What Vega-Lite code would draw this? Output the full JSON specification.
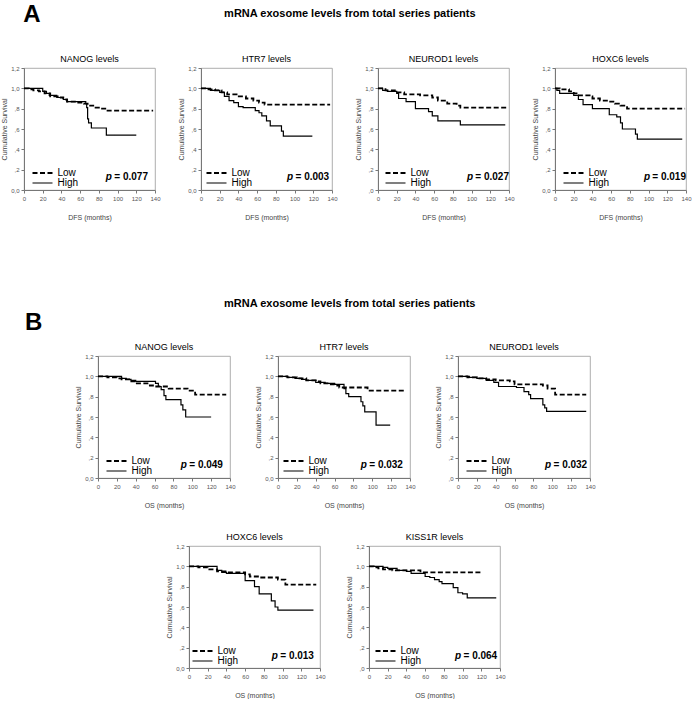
{
"$schema": "https://vega.github.io/schema/vega-lite/v6.json",
"padding": {"left": 0, "top": 2, "right": 0, "bottom": 0},
"spacing": 76,
"resolve": {"scale": {"strokeDash": "independent", "strokeWidth": "independent"}, "legend": {"strokeDash": "independent"}},
"config": {
  "font": "Liberation Sans",
  "view": {"stroke": "#999", "strokeWidth": 0.8},
  "axis": {"grid": false, "labelFontSize": 6, "labelColor": "#555", "labelFont": "Liberation Sans", "labelOverlap": false, "labelFlush": false, "tickColor": "#777", "domainColor": "#777", "tickSize": 3, "titleFontSize": 7, "titleFontWeight": "normal", "titleColor": "#444", "titleFont": "Liberation Sans", "labelPadding": 2},
  "axisY": {"titlePadding": 3},
  "axisX": {"titlePadding": 12},
  "title": {"fontSize": 9, "fontWeight": "normal", "color": "black", "offset": 1, "font": "Liberation Sans"},
  "legend": {"symbolType": "M-4,0H4", "symbolStrokeColor": "black", "symbolFillColor": "transparent", "symbolStrokeWidth": 1.6, "symbolSize": 25, "labelFontSize": 10, "labelColor": "black", "labelFont": "Liberation Sans", "padding": 0, "rowPadding": -3, "labelOffset": 10},
  "text": {"font": "Liberation Sans"}
},
"datasets": {
"pv": [
{"panel":"A1","p":"= 0.077"},{"panel":"A2","p":"= 0.003"},{"panel":"A3","p":"= 0.027"},{"panel":"A4","p":"= 0.019"},
{"panel":"B1","p":"= 0.049"},{"panel":"B2","p":"= 0.032"},{"panel":"B3","p":"= 0.032"},{"panel":"C1","p":"= 0.013"},{"panel":"C2","p":"= 0.064"}
],
"km": [
{"panel":"A1","group":"Low","t":0,"s":1},{"panel":"A1","group":"Low","t":5,"s":0.99},{"panel":"A1","group":"Low","t":10,"s":0.98},{"panel":"A1","group":"Low","t":16,"s":0.97},{"panel":"A1","group":"Low","t":22,"s":0.95},{"panel":"A1","group":"Low","t":28,"s":0.92},{"panel":"A1","group":"Low","t":36,"s":0.91},{"panel":"A1","group":"Low","t":42,"s":0.89},{"panel":"A1","group":"Low","t":46,"s":0.87},{"panel":"A1","group":"Low","t":58,"s":0.86},{"panel":"A1","group":"Low","t":64,"s":0.85},{"panel":"A1","group":"Low","t":68,"s":0.83},{"panel":"A1","group":"Low","t":74,"s":0.81},{"panel":"A1","group":"Low","t":80,"s":0.80},{"panel":"A1","group":"Low","t":88,"s":0.78},{"panel":"A1","group":"Low","t":138,"s":0.78},
{"panel":"A1","group":"High","t":0,"s":1},{"panel":"A1","group":"High","t":20,"s":0.97},{"panel":"A1","group":"High","t":24,"s":0.95},{"panel":"A1","group":"High","t":27,"s":0.93},{"panel":"A1","group":"High","t":35,"s":0.91},{"panel":"A1","group":"High","t":42,"s":0.89},{"panel":"A1","group":"High","t":46,"s":0.87},{"panel":"A1","group":"High","t":66,"s":0.85},{"panel":"A1","group":"High","t":67,"s":0.81},{"panel":"A1","group":"High","t":68,"s":0.70},{"panel":"A1","group":"High","t":69,"s":0.66},{"panel":"A1","group":"High","t":72,"s":0.61},{"panel":"A1","group":"High","t":88,"s":0.54},{"panel":"A1","group":"High","t":120,"s":0.54},
{"panel":"A2","group":"Low","t":0,"s":1},{"panel":"A2","group":"Low","t":8,"s":0.99},{"panel":"A2","group":"Low","t":15,"s":0.98},{"panel":"A2","group":"Low","t":22,"s":0.96},{"panel":"A2","group":"Low","t":28,"s":0.94},{"panel":"A2","group":"Low","t":38,"s":0.92},{"panel":"A2","group":"Low","t":48,"s":0.90},{"panel":"A2","group":"Low","t":56,"s":0.88},{"panel":"A2","group":"Low","t":62,"s":0.86},{"panel":"A2","group":"Low","t":68,"s":0.84},{"panel":"A2","group":"Low","t":138,"s":0.84},
{"panel":"A2","group":"High","t":0,"s":1},{"panel":"A2","group":"High","t":10,"s":0.98},{"panel":"A2","group":"High","t":20,"s":0.96},{"panel":"A2","group":"High","t":25,"s":0.92},{"panel":"A2","group":"High","t":30,"s":0.88},{"panel":"A2","group":"High","t":35,"s":0.86},{"panel":"A2","group":"High","t":40,"s":0.82},{"panel":"A2","group":"High","t":45,"s":0.81},{"panel":"A2","group":"High","t":58,"s":0.78},{"panel":"A2","group":"High","t":62,"s":0.76},{"panel":"A2","group":"High","t":65,"s":0.73},{"panel":"A2","group":"High","t":70,"s":0.68},{"panel":"A2","group":"High","t":74,"s":0.63},{"panel":"A2","group":"High","t":86,"s":0.58},{"panel":"A2","group":"High","t":88,"s":0.53},{"panel":"A2","group":"High","t":119,"s":0.53},
{"panel":"A3","group":"Low","t":0,"s":1},{"panel":"A3","group":"Low","t":8,"s":0.98},{"panel":"A3","group":"Low","t":18,"s":0.96},{"panel":"A3","group":"Low","t":28,"s":0.94},{"panel":"A3","group":"Low","t":45,"s":0.93},{"panel":"A3","group":"Low","t":58,"s":0.91},{"panel":"A3","group":"Low","t":64,"s":0.88},{"panel":"A3","group":"Low","t":74,"s":0.85},{"panel":"A3","group":"Low","t":84,"s":0.83},{"panel":"A3","group":"Low","t":88,"s":0.81},{"panel":"A3","group":"Low","t":138,"s":0.81},
{"panel":"A3","group":"High","t":0,"s":1},{"panel":"A3","group":"High","t":5,"s":0.98},{"panel":"A3","group":"High","t":10,"s":0.97},{"panel":"A3","group":"High","t":20,"s":0.95},{"panel":"A3","group":"High","t":22,"s":0.90},{"panel":"A3","group":"High","t":30,"s":0.87},{"panel":"A3","group":"High","t":40,"s":0.80},{"panel":"A3","group":"High","t":54,"s":0.77},{"panel":"A3","group":"High","t":58,"s":0.73},{"panel":"A3","group":"High","t":64,"s":0.68},{"panel":"A3","group":"High","t":88,"s":0.64},{"panel":"A3","group":"High","t":136,"s":0.64},
{"panel":"A4","group":"Low","t":0,"s":1},{"panel":"A4","group":"Low","t":5,"s":0.99},{"panel":"A4","group":"Low","t":15,"s":0.97},{"panel":"A4","group":"Low","t":20,"s":0.95},{"panel":"A4","group":"Low","t":24,"s":0.93},{"panel":"A4","group":"Low","t":37,"s":0.92},{"panel":"A4","group":"Low","t":40,"s":0.90},{"panel":"A4","group":"Low","t":48,"s":0.88},{"panel":"A4","group":"Low","t":58,"s":0.87},{"panel":"A4","group":"Low","t":64,"s":0.85},{"panel":"A4","group":"Low","t":70,"s":0.83},{"panel":"A4","group":"Low","t":77,"s":0.80},{"panel":"A4","group":"Low","t":139,"s":0.80},
{"panel":"A4","group":"High","t":0,"s":1},{"panel":"A4","group":"High","t":2,"s":0.98},{"panel":"A4","group":"High","t":5,"s":0.95},{"panel":"A4","group":"High","t":20,"s":0.93},{"panel":"A4","group":"High","t":25,"s":0.89},{"panel":"A4","group":"High","t":30,"s":0.84},{"panel":"A4","group":"High","t":40,"s":0.80},{"panel":"A4","group":"High","t":58,"s":0.74},{"panel":"A4","group":"High","t":66,"s":0.72},{"panel":"A4","group":"High","t":70,"s":0.66},{"panel":"A4","group":"High","t":72,"s":0.60},{"panel":"A4","group":"High","t":86,"s":0.55},{"panel":"A4","group":"High","t":88,"s":0.50},{"panel":"A4","group":"High","t":136,"s":0.50},
{"panel":"B1","group":"Low","t":0,"s":1},{"panel":"B1","group":"Low","t":10,"s":0.99},{"panel":"B1","group":"Low","t":20,"s":0.98},{"panel":"B1","group":"Low","t":25,"s":0.97},{"panel":"B1","group":"Low","t":33,"s":0.95},{"panel":"B1","group":"Low","t":40,"s":0.93},{"panel":"B1","group":"Low","t":55,"s":0.91},{"panel":"B1","group":"Low","t":60,"s":0.90},{"panel":"B1","group":"Low","t":75,"s":0.88},{"panel":"B1","group":"Low","t":95,"s":0.86},{"panel":"B1","group":"Low","t":103,"s":0.82},{"panel":"B1","group":"Low","t":136,"s":0.82},
{"panel":"B1","group":"High","t":0,"s":1},{"panel":"B1","group":"High","t":25,"s":0.98},{"panel":"B1","group":"High","t":30,"s":0.97},{"panel":"B1","group":"High","t":35,"s":0.96},{"panel":"B1","group":"High","t":40,"s":0.95},{"panel":"B1","group":"High","t":61,"s":0.93},{"panel":"B1","group":"High","t":64,"s":0.90},{"panel":"B1","group":"High","t":67,"s":0.87},{"panel":"B1","group":"High","t":70,"s":0.81},{"panel":"B1","group":"High","t":72,"s":0.77},{"panel":"B1","group":"High","t":88,"s":0.72},{"panel":"B1","group":"High","t":90,"s":0.67},{"panel":"B1","group":"High","t":93,"s":0.60},{"panel":"B1","group":"High","t":120,"s":0.60},
{"panel":"B2","group":"Low","t":0,"s":1},{"panel":"B2","group":"Low","t":10,"s":0.99},{"panel":"B2","group":"Low","t":20,"s":0.98},{"panel":"B2","group":"Low","t":30,"s":0.96},{"panel":"B2","group":"Low","t":40,"s":0.95},{"panel":"B2","group":"Low","t":45,"s":0.93},{"panel":"B2","group":"Low","t":55,"s":0.92},{"panel":"B2","group":"Low","t":60,"s":0.91},{"panel":"B2","group":"Low","t":65,"s":0.89},{"panel":"B2","group":"Low","t":95,"s":0.86},{"panel":"B2","group":"Low","t":136,"s":0.86},
{"panel":"B2","group":"High","t":0,"s":1},{"panel":"B2","group":"High","t":10,"s":0.99},{"panel":"B2","group":"High","t":18,"s":0.98},{"panel":"B2","group":"High","t":25,"s":0.97},{"panel":"B2","group":"High","t":30,"s":0.96},{"panel":"B2","group":"High","t":40,"s":0.94},{"panel":"B2","group":"High","t":50,"s":0.93},{"panel":"B2","group":"High","t":60,"s":0.92},{"panel":"B2","group":"High","t":70,"s":0.88},{"panel":"B2","group":"High","t":72,"s":0.83},{"panel":"B2","group":"High","t":75,"s":0.80},{"panel":"B2","group":"High","t":88,"s":0.75},{"panel":"B2","group":"High","t":90,"s":0.71},{"panel":"B2","group":"High","t":92,"s":0.65},{"panel":"B2","group":"High","t":104,"s":0.52},{"panel":"B2","group":"High","t":119,"s":0.52},
{"panel":"B3","group":"Low","t":0,"s":1},{"panel":"B3","group":"Low","t":10,"s":0.99},{"panel":"B3","group":"Low","t":20,"s":0.98},{"panel":"B3","group":"Low","t":30,"s":0.97},{"panel":"B3","group":"Low","t":40,"s":0.96},{"panel":"B3","group":"Low","t":55,"s":0.95},{"panel":"B3","group":"Low","t":60,"s":0.92},{"panel":"B3","group":"Low","t":90,"s":0.91},{"panel":"B3","group":"Low","t":95,"s":0.88},{"panel":"B3","group":"Low","t":103,"s":0.82},{"panel":"B3","group":"Low","t":136,"s":0.82},
{"panel":"B3","group":"High","t":0,"s":1},{"panel":"B3","group":"High","t":12,"s":0.99},{"panel":"B3","group":"High","t":20,"s":0.98},{"panel":"B3","group":"High","t":30,"s":0.96},{"panel":"B3","group":"High","t":38,"s":0.94},{"panel":"B3","group":"High","t":43,"s":0.90},{"panel":"B3","group":"High","t":62,"s":0.89},{"panel":"B3","group":"High","t":70,"s":0.85},{"panel":"B3","group":"High","t":75,"s":0.82},{"panel":"B3","group":"High","t":77,"s":0.78},{"panel":"B3","group":"High","t":90,"s":0.72},{"panel":"B3","group":"High","t":92,"s":0.69},{"panel":"B3","group":"High","t":94,"s":0.655},{"panel":"B3","group":"High","t":136,"s":0.655},
{"panel":"C1","group":"Low","t":0,"s":1},{"panel":"C1","group":"Low","t":10,"s":0.99},{"panel":"C1","group":"Low","t":20,"s":0.97},{"panel":"C1","group":"Low","t":30,"s":0.95},{"panel":"C1","group":"Low","t":40,"s":0.94},{"panel":"C1","group":"Low","t":60,"s":0.92},{"panel":"C1","group":"Low","t":65,"s":0.90},{"panel":"C1","group":"Low","t":75,"s":0.89},{"panel":"C1","group":"Low","t":95,"s":0.87},{"panel":"C1","group":"Low","t":103,"s":0.82},{"panel":"C1","group":"Low","t":136,"s":0.82},
{"panel":"C1","group":"High","t":0,"s":1},{"panel":"C1","group":"High","t":30,"s":0.96},{"panel":"C1","group":"High","t":35,"s":0.94},{"panel":"C1","group":"High","t":40,"s":0.93},{"panel":"C1","group":"High","t":60,"s":0.86},{"panel":"C1","group":"High","t":70,"s":0.80},{"panel":"C1","group":"High","t":75,"s":0.73},{"panel":"C1","group":"High","t":88,"s":0.66},{"panel":"C1","group":"High","t":92,"s":0.60},{"panel":"C1","group":"High","t":95,"s":0.57},{"panel":"C1","group":"High","t":133,"s":0.57},
{"panel":"C2","group":"Low","t":0,"s":1},{"panel":"C2","group":"Low","t":5,"s":0.99},{"panel":"C2","group":"Low","t":10,"s":0.98},{"panel":"C2","group":"Low","t":15,"s":0.97},{"panel":"C2","group":"Low","t":25,"s":0.96},{"panel":"C2","group":"Low","t":55,"s":0.94},{"panel":"C2","group":"Low","t":120,"s":0.94},
{"panel":"C2","group":"High","t":0,"s":1},{"panel":"C2","group":"High","t":15,"s":0.99},{"panel":"C2","group":"High","t":20,"s":0.98},{"panel":"C2","group":"High","t":30,"s":0.96},{"panel":"C2","group":"High","t":40,"s":0.95},{"panel":"C2","group":"High","t":45,"s":0.93},{"panel":"C2","group":"High","t":60,"s":0.90},{"panel":"C2","group":"High","t":65,"s":0.89},{"panel":"C2","group":"High","t":70,"s":0.87},{"panel":"C2","group":"High","t":75,"s":0.85},{"panel":"C2","group":"High","t":78,"s":0.83},{"panel":"C2","group":"High","t":90,"s":0.79},{"panel":"C2","group":"High","t":95,"s":0.74},{"panel":"C2","group":"High","t":100,"s":0.73},{"panel":"C2","group":"High","t":105,"s":0.69},{"panel":"C2","group":"High","t":136,"s":0.69}
]
},
"vconcat": [
{
 "title": {"text": "A", "anchor": "start", "fontSize": 24, "fontWeight": "bold", "offset": 0, "dy": 19, "dx": 23},
 "resolve": {"scale": {"strokeDash": "independent", "strokeWidth": "independent"}, "legend": {"strokeDash": "independent"}},
 "vconcat": [
 {
  "title": {"text": "mRNA exosome levels from total series patients", "anchor": "middle", "fontSize": 11, "fontWeight": "bold", "offset": 36, "dx": 4},
  "bounds": "flush",
  "spacing": 46,
  "resolve": {"scale": {"strokeDash": "independent", "strokeWidth": "independent"}, "legend": {"strokeDash": "independent"}},
  "hconcat": [
   {"width": 131, "height": 122, "title": "NANOG levels", "layer": [
    {"data": {"name": "km"}, "transform": [{"filter": "datum.panel == 'A1'"}], "mark": {"type": "line", "interpolate": "step-after", "color": "black"},
     "encoding": {
      "x": {"field": "t", "type": "quantitative", "scale": {"domain": [0, 140], "nice": false}, "axis": {"title": "DFS (months)", "values": [0,20,40,60,80,100,120,140], "tickCount": 8, "labelOverlap": false}},
      "y": {"field": "s", "type": "quantitative", "scale": {"domain": [0, 1.2], "nice": false}, "axis": {"title": "Cumulative Survival", "values": [0,0.2,0.4,0.6,0.8,1,1.2], "tickCount": 7, "labelOverlap": false, "labelExpr": "datum.value == 0 ? '0,0' : datum.value >= 1 ? replace(format(datum.value, '.1f'), '.', ',') : ',' + substring(format(datum.value, '.1f'), 2)"}},
      "strokeDash": {"field": "group", "type": "nominal", "scale": {"domain": ["Low", "High"], "range": [[5, 2.5], [1, 0]]}, "legend": {"title": null, "symbolType": "M-4,0H4", "orient": "none", "legendX": 13.5, "legendY": 100}},
      "strokeWidth": {"field": "group", "type": "nominal", "scale": {"domain": ["Low", "High"], "range": [1.8, 1.2]}, "legend": null}}},
    {"data": {"name": "pv"}, "transform": [{"filter": "datum.panel == 'A1'"}], "mark": {"type": "text", "align": "right", "baseline": "middle", "fontSize": 10, "fontWeight": "bold", "color": "black"},
     "encoding": {"text": {"field": "p"}, "x": {"datum": 132.5}, "y": {"datum": 0.125}}},
    {"data": {"name": "pv"}, "transform": [{"filter": "datum.panel == 'A1'"}], "mark": {"type": "text", "text": "p", "align": "right", "baseline": "middle", "fontSize": 10, "fontWeight": "bold", "fontStyle": "italic", "color": "black", "dx": -36},
     "encoding": {"x": {"datum": 132.5}, "y": {"datum": 0.125}}}
   ]},
   {"width": 131, "height": 122, "title": "HTR7 levels", "layer": [
    {"data": {"name": "km"}, "transform": [{"filter": "datum.panel == 'A2'"}], "mark": {"type": "line", "interpolate": "step-after", "color": "black"},
     "encoding": {
      "x": {"field": "t", "type": "quantitative", "scale": {"domain": [0, 140], "nice": false}, "axis": {"title": "DFS (months)", "values": [0,20,40,60,80,100,120,140], "tickCount": 8, "labelOverlap": false}},
      "y": {"field": "s", "type": "quantitative", "scale": {"domain": [0, 1.2], "nice": false}, "axis": {"title": "Cumulative Survival", "values": [0,0.2,0.4,0.6,0.8,1,1.2], "tickCount": 7, "labelOverlap": false, "labelExpr": "datum.value == 0 ? '0,0' : datum.value >= 1 ? replace(format(datum.value, '.1f'), '.', ',') : ',' + substring(format(datum.value, '.1f'), 2)"}},
      "strokeDash": {"field": "group", "type": "nominal", "scale": {"domain": ["Low", "High"], "range": [[5, 2.5], [1, 0]]}, "legend": {"title": null, "symbolType": "M-4,0H4", "orient": "none", "legendX": 10.5, "legendY": 100}},
      "strokeWidth": {"field": "group", "type": "nominal", "scale": {"domain": ["Low", "High"], "range": [1.8, 1.2]}, "legend": null}}},
    {"data": {"name": "pv"}, "transform": [{"filter": "datum.panel == 'A2'"}], "mark": {"type": "text", "align": "right", "baseline": "middle", "fontSize": 10, "fontWeight": "bold", "color": "black"},
     "encoding": {"text": {"field": "p"}, "x": {"datum": 137}, "y": {"datum": 0.125}}},
    {"data": {"name": "pv"}, "transform": [{"filter": "datum.panel == 'A2'"}], "mark": {"type": "text", "text": "p", "align": "right", "baseline": "middle", "fontSize": 10, "fontWeight": "bold", "fontStyle": "italic", "color": "black", "dx": -36},
     "encoding": {"x": {"datum": 137}, "y": {"datum": 0.125}}}
   ]},
   {"width": 131, "height": 122, "title": "NEUROD1 levels", "layer": [
    {"data": {"name": "km"}, "transform": [{"filter": "datum.panel == 'A3'"}], "mark": {"type": "line", "interpolate": "step-after", "color": "black"},
     "encoding": {
      "x": {"field": "t", "type": "quantitative", "scale": {"domain": [0, 140], "nice": false}, "axis": {"title": "DFS (months)", "values": [0,20,40,60,80,100,120,140], "tickCount": 8, "labelOverlap": false}},
      "y": {"field": "s", "type": "quantitative", "scale": {"domain": [0, 1.2], "nice": false}, "axis": {"title": "Cumulative Survival", "values": [0,0.2,0.4,0.6,0.8,1,1.2], "tickCount": 7, "labelOverlap": false, "labelExpr": "datum.value == 0 ? ',0' : datum.value >= 1 ? replace(format(datum.value, '.1f'), '.', ',') : ',' + substring(format(datum.value, '.1f'), 2)"}},
      "strokeDash": {"field": "group", "type": "nominal", "scale": {"domain": ["Low", "High"], "range": [[5, 2.5], [1, 0]]}, "legend": {"title": null, "symbolType": "M-4,0H4", "orient": "none", "legendX": 12.5, "legendY": 100}},
      "strokeWidth": {"field": "group", "type": "nominal", "scale": {"domain": ["Low", "High"], "range": [1.8, 1.2]}, "legend": null}}},
    {"data": {"name": "pv"}, "transform": [{"filter": "datum.panel == 'A3'"}], "mark": {"type": "text", "align": "right", "baseline": "middle", "fontSize": 10, "fontWeight": "bold", "color": "black"},
     "encoding": {"text": {"field": "p"}, "x": {"datum": 140}, "y": {"datum": 0.125}}},
    {"data": {"name": "pv"}, "transform": [{"filter": "datum.panel == 'A3'"}], "mark": {"type": "text", "text": "p", "align": "right", "baseline": "middle", "fontSize": 10, "fontWeight": "bold", "fontStyle": "italic", "color": "black", "dx": -36},
     "encoding": {"x": {"datum": 140}, "y": {"datum": 0.125}}}
   ]},
   {"width": 131, "height": 122, "title": "HOXC6 levels", "layer": [
    {"data": {"name": "km"}, "transform": [{"filter": "datum.panel == 'A4'"}], "mark": {"type": "line", "interpolate": "step-after", "color": "black"},
     "encoding": {
      "x": {"field": "t", "type": "quantitative", "scale": {"domain": [0, 140], "nice": false}, "axis": {"title": "DFS (months)", "values": [0,20,40,60,80,100,120,140], "tickCount": 8, "labelOverlap": false}},
      "y": {"field": "s", "type": "quantitative", "scale": {"domain": [0, 1.2], "nice": false}, "axis": {"title": "Cumulative Survival", "values": [0,0.2,0.4,0.6,0.8,1,1.2], "tickCount": 7, "labelOverlap": false, "labelExpr": "datum.value == 0 ? '0,0' : datum.value >= 1 ? replace(format(datum.value, '.1f'), '.', ',') : ',' + substring(format(datum.value, '.1f'), 2)"}},
      "strokeDash": {"field": "group", "type": "nominal", "scale": {"domain": ["Low", "High"], "range": [[5, 2.5], [1, 0]]}, "legend": {"title": null, "symbolType": "M-4,0H4", "orient": "none", "legendX": 13.5, "legendY": 100}},
      "strokeWidth": {"field": "group", "type": "nominal", "scale": {"domain": ["Low", "High"], "range": [1.8, 1.2]}, "legend": null}}},
    {"data": {"name": "pv"}, "transform": [{"filter": "datum.panel == 'A4'"}], "mark": {"type": "text", "align": "right", "baseline": "middle", "fontSize": 10, "fontWeight": "bold", "color": "black"},
     "encoding": {"text": {"field": "p"}, "x": {"datum": 140}, "y": {"datum": 0.125}}},
    {"data": {"name": "pv"}, "transform": [{"filter": "datum.panel == 'A4'"}], "mark": {"type": "text", "text": "p", "align": "right", "baseline": "middle", "fontSize": 10, "fontWeight": "bold", "fontStyle": "italic", "color": "black", "dx": -36},
     "encoding": {"x": {"datum": 140}, "y": {"datum": 0.125}}}
   ]}
  ]
 }
 ]
},
{
 "title": {"text": "B", "anchor": "start", "fontSize": 24, "fontWeight": "bold", "offset": 0, "dy": 37, "dx": 1},
 "resolve": {"scale": {"strokeDash": "independent", "strokeWidth": "independent"}, "legend": {"strokeDash": "independent"}},
 "vconcat": [
 {
  "title": {"text": "mRNA exosome levels from total series patients", "anchor": "middle", "fontSize": 11, "fontWeight": "bold", "offset": 34, "dx": 40},
  "spacing": 23,
  "resolve": {"scale": {"strokeDash": "independent", "strokeWidth": "independent"}, "legend": {"strokeDash": "independent"}},
  "vconcat": [
  {
   "bounds": "flush",
   "spacing": 48,
   "resolve": {"scale": {"strokeDash": "independent", "strokeWidth": "independent"}, "legend": {"strokeDash": "independent"}},
   "hconcat": [
   {"width": 26, "height": 122, "data": {"values": []}, "mark": "point", "view": {"stroke": null}},
   {"width": 132, "height": 122, "title": "NANOG levels", "layer": [
    {"data": {"name": "km"}, "transform": [{"filter": "datum.panel == 'B1'"}], "mark": {"type": "line", "interpolate": "step-after", "color": "black"},
     "encoding": {
      "x": {"field": "t", "type": "quantitative", "scale": {"domain": [0, 140], "nice": false}, "axis": {"title": "OS (months)", "values": [0,20,40,60,80,100,120,140], "tickCount": 8, "labelOverlap": false}},
      "y": {"field": "s", "type": "quantitative", "scale": {"domain": [0, 1.2], "nice": false}, "axis": {"title": "Cumulative Survival", "values": [0,0.2,0.4,0.6,0.8,1,1.2], "tickCount": 7, "labelOverlap": false, "labelExpr": "datum.value == 0 ? '0,0' : datum.value >= 1 ? replace(format(datum.value, '.1f'), '.', ',') : ',' + substring(format(datum.value, '.1f'), 2)"}},
      "strokeDash": {"field": "group", "type": "nominal", "scale": {"domain": ["Low", "High"], "range": [[5, 2.5], [1, 0]]}, "legend": {"title": null, "symbolType": "M-4,0H4", "orient": "none", "legendX": 13.5, "legendY": 100}},
      "strokeWidth": {"field": "group", "type": "nominal", "scale": {"domain": ["Low", "High"], "range": [1.8, 1.2]}, "legend": null}}},
    {"data": {"name": "pv"}, "transform": [{"filter": "datum.panel == 'B1'"}], "mark": {"type": "text", "align": "right", "baseline": "middle", "fontSize": 10, "fontWeight": "bold", "color": "black"},
     "encoding": {"text": {"field": "p"}, "x": {"datum": 132.5}, "y": {"datum": 0.125}}},
    {"data": {"name": "pv"}, "transform": [{"filter": "datum.panel == 'B1'"}], "mark": {"type": "text", "text": "p", "align": "right", "baseline": "middle", "fontSize": 10, "fontWeight": "bold", "fontStyle": "italic", "color": "black", "dx": -36},
     "encoding": {"x": {"datum": 132.5}, "y": {"datum": 0.125}}}
   ]},
   {"width": 132, "height": 122, "title": "HTR7 levels", "layer": [
    {"data": {"name": "km"}, "transform": [{"filter": "datum.panel == 'B2'"}], "mark": {"type": "line", "interpolate": "step-after", "color": "black"},
     "encoding": {
      "x": {"field": "t", "type": "quantitative", "scale": {"domain": [0, 140], "nice": false}, "axis": {"title": "OS (months)", "values": [0,20,40,60,80,100,120,140], "tickCount": 8, "labelOverlap": false}},
      "y": {"field": "s", "type": "quantitative", "scale": {"domain": [0, 1.2], "nice": false}, "axis": {"title": "Cumulative Survival", "values": [0,0.2,0.4,0.6,0.8,1,1.2], "tickCount": 7, "labelOverlap": false, "labelExpr": "datum.value == 0 ? '0,0' : datum.value >= 1 ? replace(format(datum.value, '.1f'), '.', ',') : ',' + substring(format(datum.value, '.1f'), 2)"}},
      "strokeDash": {"field": "group", "type": "nominal", "scale": {"domain": ["Low", "High"], "range": [[5, 2.5], [1, 0]]}, "legend": {"title": null, "symbolType": "M-4,0H4", "orient": "none", "legendX": 10.5, "legendY": 100}},
      "strokeWidth": {"field": "group", "type": "nominal", "scale": {"domain": ["Low", "High"], "range": [1.8, 1.2]}, "legend": null}}},
    {"data": {"name": "pv"}, "transform": [{"filter": "datum.panel == 'B2'"}], "mark": {"type": "text", "align": "right", "baseline": "middle", "fontSize": 10, "fontWeight": "bold", "color": "black"},
     "encoding": {"text": {"field": "p"}, "x": {"datum": 132.5}, "y": {"datum": 0.125}}},
    {"data": {"name": "pv"}, "transform": [{"filter": "datum.panel == 'B2'"}], "mark": {"type": "text", "text": "p", "align": "right", "baseline": "middle", "fontSize": 10, "fontWeight": "bold", "fontStyle": "italic", "color": "black", "dx": -36},
     "encoding": {"x": {"datum": 132.5}, "y": {"datum": 0.125}}}
   ]},
   {"width": 132, "height": 122, "title": "NEUROD1 levels", "layer": [
    {"data": {"name": "km"}, "transform": [{"filter": "datum.panel == 'B3'"}], "mark": {"type": "line", "interpolate": "step-after", "color": "black"},
     "encoding": {
      "x": {"field": "t", "type": "quantitative", "scale": {"domain": [0, 140], "nice": false}, "axis": {"title": "OS (months)", "values": [0,20,40,60,80,100,120,140], "tickCount": 8, "labelOverlap": false}},
      "y": {"field": "s", "type": "quantitative", "scale": {"domain": [0, 1.2], "nice": false}, "axis": {"title": "Cumulative Survival", "values": [0,0.2,0.4,0.6,0.8,1,1.2], "tickCount": 7, "labelOverlap": false, "labelExpr": "datum.value == 0 ? ',0' : datum.value >= 1 ? replace(format(datum.value, '.1f'), '.', ',') : ',' + substring(format(datum.value, '.1f'), 2)"}},
      "strokeDash": {"field": "group", "type": "nominal", "scale": {"domain": ["Low", "High"], "range": [[5, 2.5], [1, 0]]}, "legend": {"title": null, "symbolType": "M-4,0H4", "orient": "none", "legendX": 13.5, "legendY": 100}},
      "strokeWidth": {"field": "group", "type": "nominal", "scale": {"domain": ["Low", "High"], "range": [1.8, 1.2]}, "legend": null}}},
    {"data": {"name": "pv"}, "transform": [{"filter": "datum.panel == 'B3'"}], "mark": {"type": "text", "align": "right", "baseline": "middle", "fontSize": 10, "fontWeight": "bold", "color": "black"},
     "encoding": {"text": {"field": "p"}, "x": {"datum": 137}, "y": {"datum": 0.125}}},
    {"data": {"name": "pv"}, "transform": [{"filter": "datum.panel == 'B3'"}], "mark": {"type": "text", "text": "p", "align": "right", "baseline": "middle", "fontSize": 10, "fontWeight": "bold", "fontStyle": "italic", "color": "black", "dx": -36},
     "encoding": {"x": {"datum": 137}, "y": {"datum": 0.125}}}
   ]}
   ]
  },
  {
   "bounds": "flush",
   "spacing": 49,
   "resolve": {"scale": {"strokeDash": "independent", "strokeWidth": "independent"}, "legend": {"strokeDash": "independent"}},
   "hconcat": [
   {"width": 116, "height": 122, "data": {"values": []}, "mark": "point", "view": {"stroke": null}},
   {"width": 131, "height": 122, "title": "HOXC6 levels", "layer": [
    {"data": {"name": "km"}, "transform": [{"filter": "datum.panel == 'C1'"}], "mark": {"type": "line", "interpolate": "step-after", "color": "black"},
     "encoding": {
      "x": {"field": "t", "type": "quantitative", "scale": {"domain": [0, 140], "nice": false}, "axis": {"title": "OS (months)", "values": [0,20,40,60,80,100,120,140], "tickCount": 8, "labelOverlap": false}},
      "y": {"field": "s", "type": "quantitative", "scale": {"domain": [0, 1.2], "nice": false}, "axis": {"title": "Cumulative Survival", "values": [0,0.2,0.4,0.6,0.8,1,1.2], "tickCount": 7, "labelOverlap": false, "labelExpr": "datum.value == 0 ? '0,0' : datum.value >= 1 ? replace(format(datum.value, '.1f'), '.', ',') : ',' + substring(format(datum.value, '.1f'), 2)"}},
      "strokeDash": {"field": "group", "type": "nominal", "scale": {"domain": ["Low", "High"], "range": [[5, 2.5], [1, 0]]}, "legend": {"title": null, "symbolType": "M-4,0H4", "orient": "none", "legendX": 8.5, "legendY": 100}},
      "strokeWidth": {"field": "group", "type": "nominal", "scale": {"domain": ["Low", "High"], "range": [1.8, 1.2]}, "legend": null}}},
    {"data": {"name": "pv"}, "transform": [{"filter": "datum.panel == 'C1'"}], "mark": {"type": "text", "align": "right", "baseline": "middle", "fontSize": 10, "fontWeight": "bold", "color": "black"},
     "encoding": {"text": {"field": "p"}, "x": {"datum": 133.5}, "y": {"datum": 0.12}}},
    {"data": {"name": "pv"}, "transform": [{"filter": "datum.panel == 'C1'"}], "mark": {"type": "text", "text": "p", "align": "right", "baseline": "middle", "fontSize": 10, "fontWeight": "bold", "fontStyle": "italic", "color": "black", "dx": -36},
     "encoding": {"x": {"datum": 133.5}, "y": {"datum": 0.12}}}
   ]},
   {"width": 131, "height": 122, "title": "KISS1R levels", "layer": [
    {"data": {"name": "km"}, "transform": [{"filter": "datum.panel == 'C2'"}], "mark": {"type": "line", "interpolate": "step-after", "color": "black"},
     "encoding": {
      "x": {"field": "t", "type": "quantitative", "scale": {"domain": [0, 140], "nice": false}, "axis": {"title": "OS (months)", "values": [0,20,40,60,80,100,120,140], "tickCount": 8, "labelOverlap": false}},
      "y": {"field": "s", "type": "quantitative", "scale": {"domain": [0, 1.2], "nice": false}, "axis": {"title": "Cumulative Survival", "values": [0,0.2,0.4,0.6,0.8,1,1.2], "tickCount": 7, "labelOverlap": false, "labelExpr": "datum.value == 0 ? ',0' : datum.value >= 1 ? replace(format(datum.value, '.1f'), '.', ',') : ',' + substring(format(datum.value, '.1f'), 2)"}},
      "strokeDash": {"field": "group", "type": "nominal", "scale": {"domain": ["Low", "High"], "range": [[5, 2.5], [1, 0]]}, "legend": {"title": null, "symbolType": "M-4,0H4", "orient": "none", "legendX": 11.5, "legendY": 100}},
      "strokeWidth": {"field": "group", "type": "nominal", "scale": {"domain": ["Low", "High"], "range": [1.8, 1.2]}, "legend": null}}},
    {"data": {"name": "pv"}, "transform": [{"filter": "datum.panel == 'C2'"}], "mark": {"type": "text", "align": "right", "baseline": "middle", "fontSize": 10, "fontWeight": "bold", "color": "black"},
     "encoding": {"text": {"field": "p"}, "x": {"datum": 137}, "y": {"datum": 0.12}}},
    {"data": {"name": "pv"}, "transform": [{"filter": "datum.panel == 'C2'"}], "mark": {"type": "text", "text": "p", "align": "right", "baseline": "middle", "fontSize": 10, "fontWeight": "bold", "fontStyle": "italic", "color": "black", "dx": -36},
     "encoding": {"x": {"datum": 137}, "y": {"datum": 0.12}}}
   ]}
   ]
  }
  ]
 }
 ]
}
]
}
